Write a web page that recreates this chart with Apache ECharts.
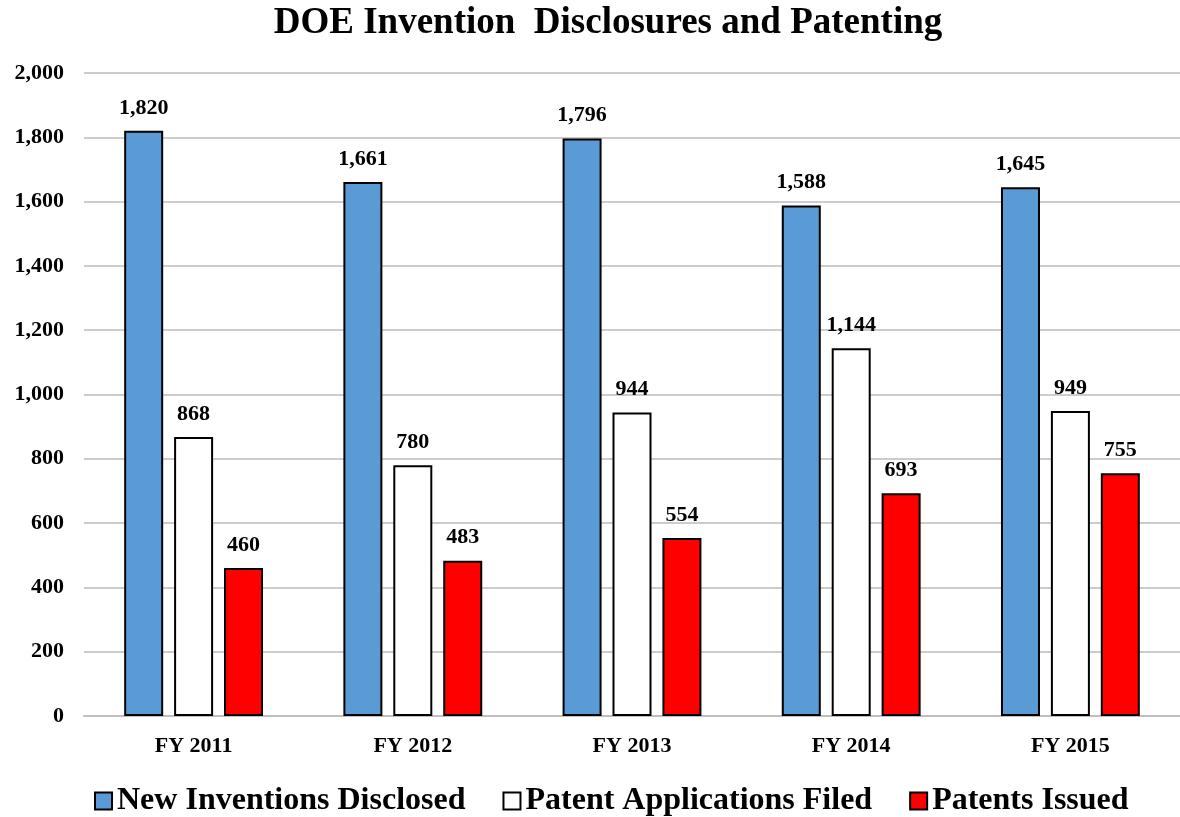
<!DOCTYPE html>
<html><head><meta charset="utf-8">
<script src="https://cdn.jsdelivr.net/npm/echarts@6/dist/echarts.min.js"></script>
<style>html,body{margin:0;padding:0;background:#fff}#c{width:1180px;height:817px}</style>
</head><body><div id="c"></div>
<script>
const categories = ['FY 2011','FY 2012','FY 2013','FY 2014','FY 2015'];
const newInventions = [1820,1661,1796,1588,1645];
const patentApps = [868,780,944,1144,949];
const patentsIssued = [460,483,554,693,755];
const seriesNames = ['New Inventions Disclosed','Patent Applications Filed','Patents Issued'];
const F = '"Liberation Serif","Times New Roman",serif';
const chart = echarts.init(document.getElementById('c'));
function mk(name, data, color){
  return {name, type:'bar', data, barWidth:39, barGap:'28%',
    itemStyle:{color, borderColor:'#000', borderWidth:2},
    label:{show:true, position:'top', distance:12, fontFamily:F, fontWeight:'bold', fontSize:22, color:'#000',
      formatter:p=>p.value.toLocaleString('en-US')}};
}
chart.setOption({
  animation:false,
  title:{text:'DOE Invention  Disclosures and Patenting', left:603, textAlign:'center', top:0,
    textStyle:{fontFamily:F, fontWeight:'bold', fontSize:37, color:'#000'}},
  legend:{top:780, left:89, itemWidth:17, itemHeight:17, itemGap:37,
    textStyle:{fontFamily:F, fontWeight:'bold', fontSize:32, color:'#000', padding:[0,0,0,0]},
    data:seriesNames.map(n=>({name:n, icon:'rect', itemStyle:{borderColor:'#000', borderWidth:2}}))},
  grid:{left:84, right:-2, top:73, bottom:101, containLabel:false},
  xAxis:{type:'category', data:categories,
    axisLine:{lineStyle:{color:'#bfbfbf', width:2}}, axisTick:{show:false},
    axisLabel:{fontFamily:F, fontWeight:'bold', fontSize:22, color:'#000', margin:19}},
  yAxis:{type:'value', min:0, max:2000, interval:200,
    axisLine:{show:false}, axisTick:{show:false},
    splitLine:{lineStyle:{color:'#cccccc', width:2}},
    axisLabel:{fontFamily:F, fontWeight:'bold', fontSize:22, color:'#000', margin:20,
      formatter:v=>v.toLocaleString('en-US')}},
  series:[mk(seriesNames[0], newInventions, '#5b9bd5'), mk(seriesNames[1], patentApps, '#ffffff'), mk(seriesNames[2], patentsIssued, '#ff0000')]
});
</script></body></html>
